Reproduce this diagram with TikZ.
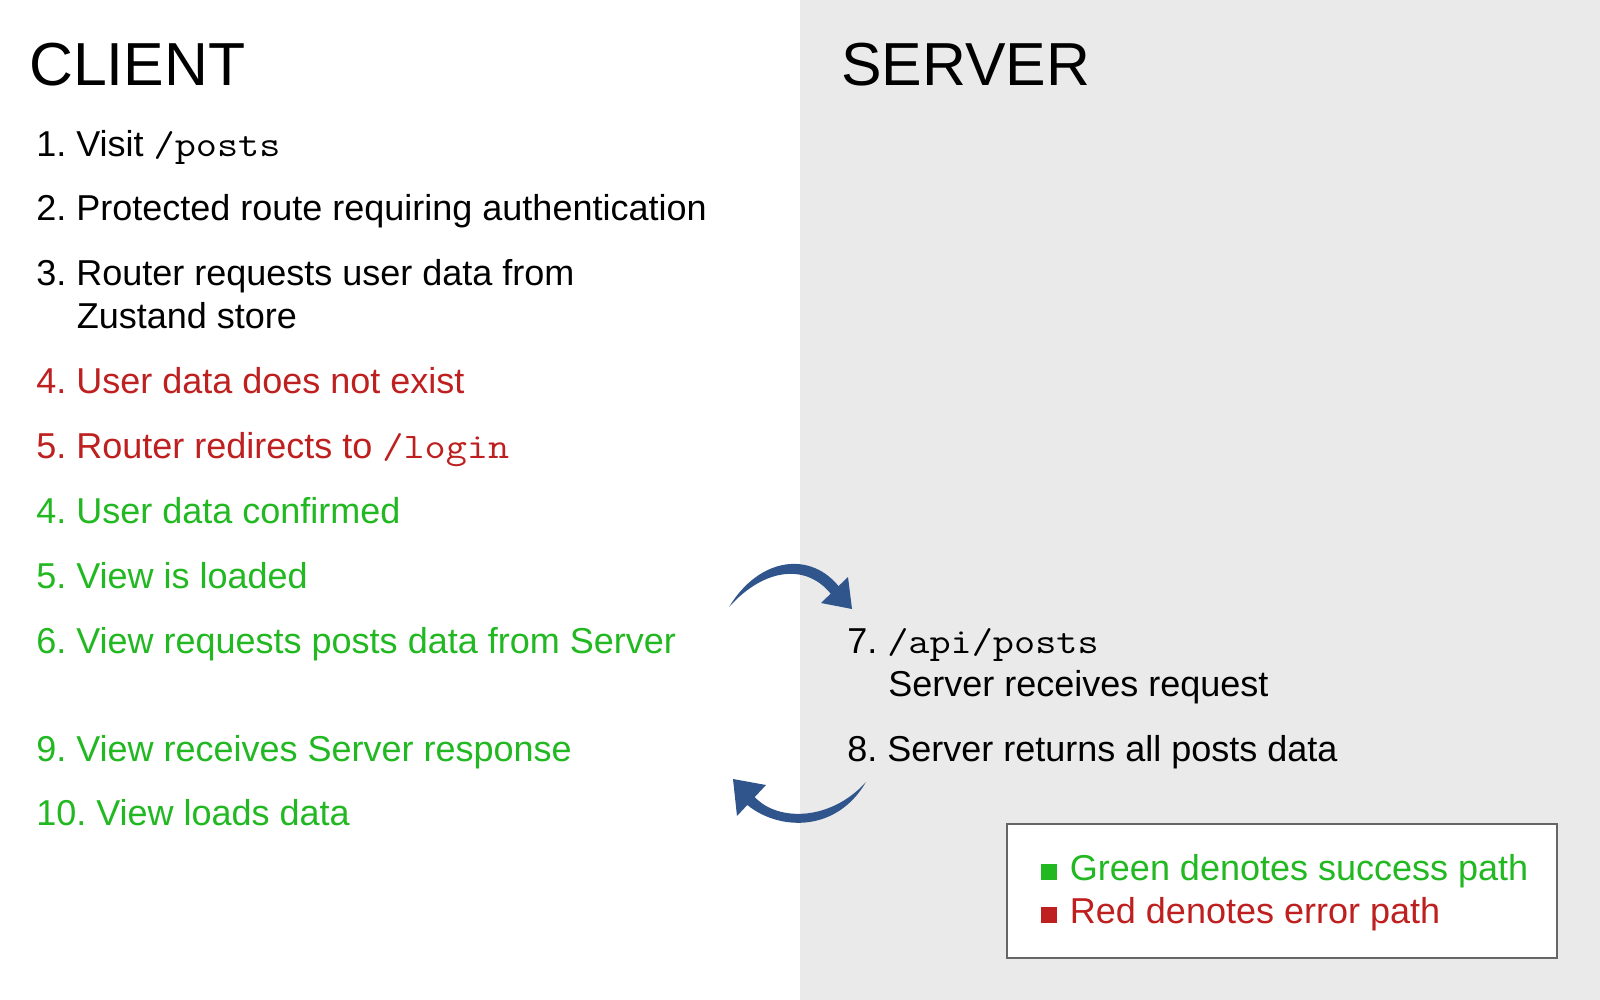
\documentclass[tikz,border=0pt]{standalone}
\usepackage{fontspec}
\setmainfont{Liberation Sans}
\setmonofont{Latin Modern Mono}[FakeStretch=1.14]
\usepackage{xcolor}
\usetikzlibrary{positioning}
\definecolor{okgreen}{RGB}{34,184,34}
\definecolor{errred}{RGB}{190,32,32}
\definecolor{flowblue}{RGB}{47,85,140}
\definecolor{srvgray}{RGB}{234,234,234}
\definecolor{framegray}{RGB}{102,102,102}
\frenchspacing

\begin{document}
\begin{tikzpicture}[x=0.025cm,y=-0.025cm,
  lbl/.style={anchor=base west,inner sep=0pt,font=\fontsize{25.6}{30.2}\selectfont},
  ok/.style={lbl,text=okgreen},
  err/.style={lbl,text=errred},
  hdr/.style={anchor=base west,inner sep=0pt,font=\fontsize{43.2}{50}\selectfont},
  flow/.style={fill=flowblue,draw=none}]
  \useasboundingbox (0,0) rectangle (1600,1000);
  \fill[white](0,0) rectangle (800,1000);
  \fill[srvgray](800,0) rectangle (1600,1000);
  %% client
  \node[hdr](client) at (29,85){CLIENT};
  \node[lbl](c1) at (36,156){1. Visit \texttt{/posts}};
  \node[lbl](c2) at (36,220.5){2. Protected route requiring authentication};
  \node[lbl](c3) at (36,285.5){3. Router requests user data from};
  \node[lbl](c3b) at (76.5,328){Zustand store};
  \node[err](c4e) at (36,393.5){4. User data does not exist};
  \node[err](c5e) at (36,458){5. Router redirects to \texttt{/login}};
  \node[ok](c4) at (36,523){4. User data confirmed};
  \node[ok](c5) at (36,588){5. View is loaded};
  \node[ok](c6) at (36,653){6. View requests posts data from Server};
  \node[ok](c9) at (36,761.5){9. View receives Server response};
  \node[ok](c10) at (36,825.5){10. View loads data};
  %% server
  \node[hdr](server) at (841,85){SERVER};
  \node[lbl](s7) at (847,653){7. \texttt{/api/posts}};
  \node[lbl](s7b) at (888,696){Server receives request};
  \node[lbl](s8) at (847,761){8. Server returns all posts data};
  %% request / response arrows
  \coordinate (reqtail) at (729,607);
  \coordinate (reqtip) at (852,609);
  \fill[flow](reqtail) .. controls (760,556) and (812,551) .. (840,588)
    -- (832.5,596) .. controls (808,563) and (765,567) .. (reqtail) -- cycle;
  \fill[flow](reqtip) -- (848,577) -- (821,603) -- cycle;
  \coordinate (restail) at (866,782);
  \coordinate (restip) at (733,779);
  \fill[flow](restail) .. controls (835,835) and (775,830) .. (745,803)
    -- (753,795) .. controls (775,822) and (830,822) .. (restail) -- cycle;
  \fill[flow](restip) -- (766,785) -- (737,816) -- cycle;
  %% legend
  \node[draw=framegray,line width=1.4pt,fill=white,inner sep=0pt,
    minimum width=13.75cm,minimum height=3.36cm](legend) at (1282,891){};
  \node[ok](lgok) at (1041,880){\rule{11.4pt}{11.4pt}\hspace{9pt}Green denotes success path};
  \node[err](lgerr) at (1041,923){\rule{11.4pt}{11.4pt}\hspace{9pt}Red denotes error path};
\end{tikzpicture}
\end{document}
